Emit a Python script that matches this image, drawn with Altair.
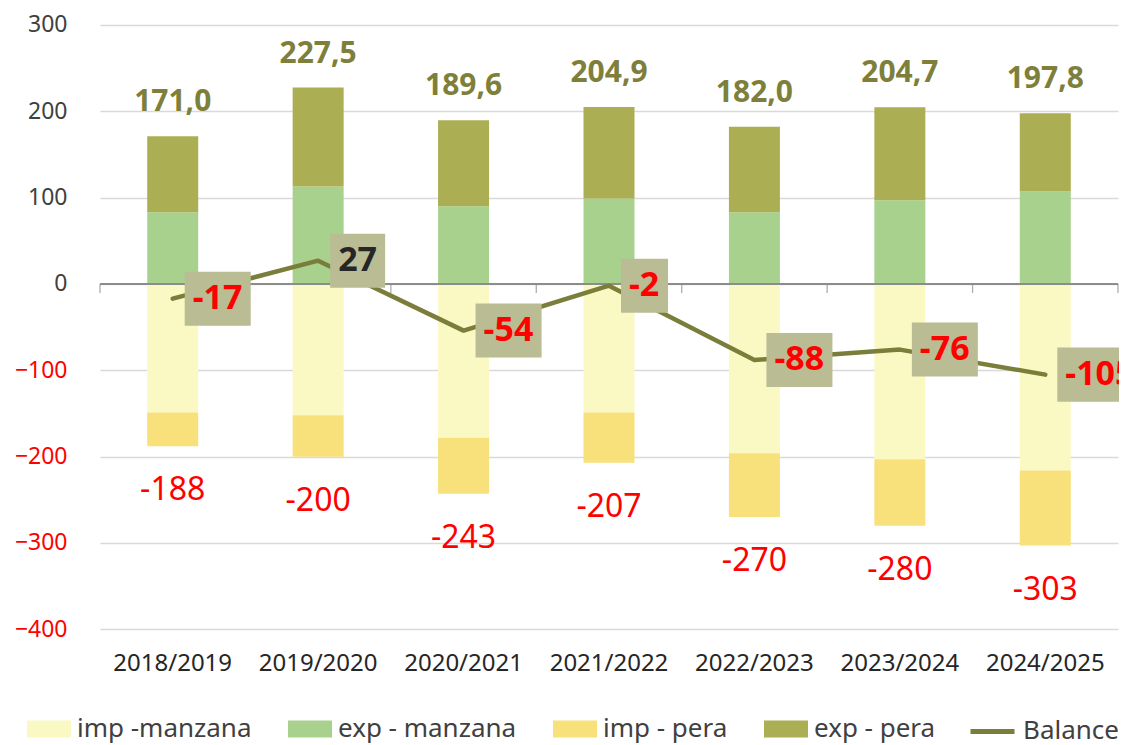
import altair as alt
import pandas as pd

# ---------------- data ----------------
categories = ["2018/2019", "2019/2020", "2020/2021", "2021/2022", "2022/2023", "2023/2024", "2024/2025"]
exp_manzana = [83, 113, 90, 99, 83, 97, 107]
exp_pera = [88.0, 114.5, 99.6, 105.9, 99.0, 107.7, 90.8]
imp_manzana = [-149, -152, -178, -149, -196, -203, -216]
imp_pera = [-39, -48, -65, -58, -74, -77, -87]
balance = [-17, 27, -54, -2, -88, -76, -105]

bar_series = ["imp -manzana", "exp - manzana", "imp - pera", "exp - pera"]
bar_colors = ["#FAF9C3", "#A9D18E", "#F8E07B", "#ABAE52"]
line_series = "Balance"
y_ticks = [-400, -300, -200, -100, 0, 100, 200, 300]

FONT = "Noto Sans"
BOX_COLOR = "#BABC94"
LINE_COLOR = "#7B7D3A"

# ---------------- tables ----------------
rows = []
for i, c in enumerate(categories):
    for s, vals in ((0, imp_manzana), (1, exp_manzana), (2, imp_pera), (3, exp_pera)):
        rows.append({"cat": c, "series": bar_series[s], "value": vals[i], "ord": s})
long_df = pd.DataFrame(rows)

tot = pd.DataFrame({
    "cat": categories,
    "exp_total": [a + b for a, b in zip(exp_manzana, exp_pera)],
    "imp_total": [a + b for a, b in zip(imp_manzana, imp_pera)],
    "balance": balance,
    "series": line_series,
})
tot["exp_lbl"] = [f"{v:.1f}".replace(".", ",") for v in tot["exp_total"]]
tot["imp_lbl"] = [f"{round(v):d}" for v in tot["imp_total"]]
tot["bal_lbl"] = [str(v) for v in balance]
# label box: half-height in data units (~27 px) and width from text length
tot["box_lo"] = tot["balance"] - 31.3
tot["box_hi"] = tot["balance"] + 31.3


def text_w(s):
    return sum(11.5 if ch == "-" else 19.5 for ch in s)


tot["box_w"] = [round(16 + text_w(s)) for s in tot["bal_lbl"]]

xscale = alt.Scale(domain=categories, paddingInner=0, paddingOuter=0)
yscale = alt.Scale(domain=[-400, 300], nice=False)

X = alt.X("cat:N", scale=xscale, title=None,
          axis=alt.Axis(labelFont=FONT, labelFontSize=24, labelColor="#262626",
                        labelAngle=0, ticks=False, domain=False, labelPadding=22))
Y = alt.Y("value:Q", scale=yscale, stack="zero", title=None,
          axis=alt.Axis(values=y_ticks, labelFont=FONT, labelFontSize=23,
                        labelColor=alt.condition("datum.value < 0", alt.value("#FF0000"), alt.value("#404040")),
                        ticks=False, domain=False, labelPadding=33,
                        grid=True, gridColor="#D9D9D9", gridWidth=1.3))

fill_legend = alt.Legend(
    title=None, orient="none", legendX=-73, legendY=682, direction="horizontal", columns=4,
    labelFont=FONT, labelFontSize=26, labelColor="#404040", labelOffset=6, labelLimit=500,
    columnPadding=36, padding=0,
    symbolType="M-1,-0.386H1V0.386H-1Z", symbolSize=1936, symbolStrokeWidth=0,
    symbolOpacity=1,
)
stroke_legend = alt.Legend(
    title=None, orient="none", legendX=868, legendY=682, direction="horizontal",
    labelFont=FONT, labelFontSize=26, labelColor="#404040", labelOffset=6, labelLimit=500,
    padding=0, symbolType="stroke", symbolSize=1936, symbolStrokeWidth=5,
)

bars = alt.Chart(long_df).mark_bar(width=51).encode(
    x=X, y=Y,
    fill=alt.Fill("series:N", scale=alt.Scale(domain=bar_series, range=bar_colors), legend=fill_legend),
    order=alt.Order("ord:Q"),
)

base = alt.Chart(tot)
xx = alt.X("cat:N", scale=xscale)

zero_rule = alt.Chart(tot).mark_rule(color="#8C8C8C", strokeWidth=1.3).encode(y=alt.datum(0))
ticks = base.mark_tick(orient="vertical", size=9, thickness=1.3, color="#8C8C8C", yOffset=4.5).encode(
    x=alt.X("cat:N", scale=xscale, bandPosition=0), y=alt.datum(0))
tick_end = base.transform_filter(alt.datum.cat == categories[-1]).mark_tick(
    orient="vertical", size=9, thickness=1.3, color="#8C8C8C", yOffset=4.5).encode(
    x=alt.X("cat:N", scale=xscale, bandPosition=1), y=alt.datum(0))

line = base.mark_line(strokeWidth=4.5, strokeCap="round", strokeJoin="round").encode(
    x=xx, y=alt.Y("balance:Q", scale=yscale),
    stroke=alt.Stroke("series:N", scale=alt.Scale(domain=[line_series], range=[LINE_COLOR]),
                      legend=stroke_legend))

box_layers = []
for w in sorted(set(tot["box_w"])):
    box_layers.append(
        base.transform_filter(alt.datum.box_w == int(w)).mark_bar(
            width=int(w), xOffset=12 + w / 2, color=BOX_COLOR).encode(
            x=xx, y=alt.Y("box_lo:Q", scale=yscale), y2="box_hi:Q")
    )

bal_text = base.mark_text(font=FONT, fontSize=34, fontWeight="bold", align="left", dx=20,
                          baseline="middle").encode(
    x=xx, y=alt.Y("balance:Q", scale=yscale), text="bal_lbl:N",
    color=alt.condition(alt.datum.balance > 0, alt.value("#262626"), alt.value("#FF0000")))

exp_text = base.mark_text(font=FONT, fontSize=30, fontWeight="bold", color="#7E7F3A",
                          baseline="alphabetic", dy=-25).encode(
    x=xx, y=alt.Y("exp_total:Q", scale=yscale), text="exp_lbl:N")

imp_text = base.mark_text(font=FONT, fontSize=32, color="#FF0000",
                          baseline="alphabetic", dy=54).encode(
    x=xx, y=alt.Y("imp_total:Q", scale=yscale), text="imp_lbl:N")

chart = alt.layer(
    bars, zero_rule, ticks, tick_end, line, *box_layers, bal_text, exp_text, imp_text
).properties(
    width=1018, height=604.3,
    padding={"left": 92, "top": 17, "right": 1, "bottom": 116},
    autosize=alt.AutoSizeParams(type="none"),
).configure_view(stroke=None)

chart.save("out.html", embed_options={"renderer": "svg", "actions": False})
